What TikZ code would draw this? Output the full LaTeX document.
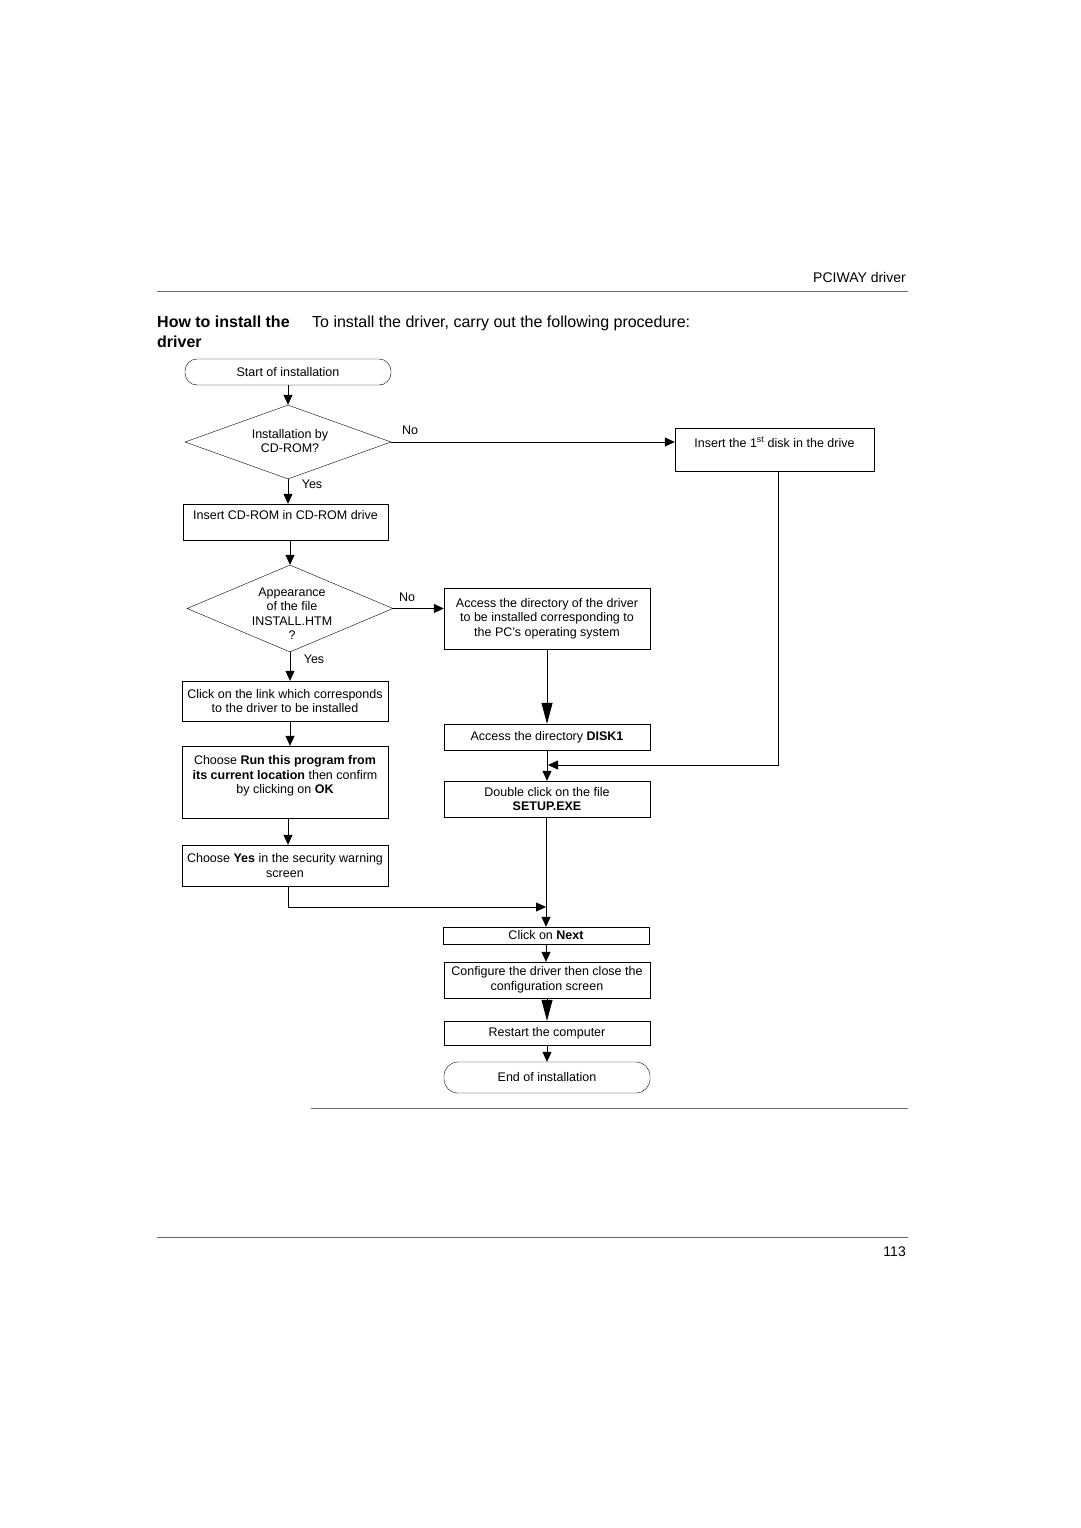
\documentclass[tikz,border=0pt]{standalone}
\usepackage{fontspec}
\setmainfont{Liberation Sans}
\usetikzlibrary{shapes.geometric,arrows.meta}

\begin{document}
\begin{tikzpicture}[x=1pt, y=-1pt, every node/.style={font=\fontsize{12.5}{14.5}\selectfont, inner sep=0pt},
	>={Triangle[length=10pt, width=9pt]},
	box/.style={draw, minimum width=206, align=center},
	term/.style={box, rounded corners=12},
	dia/.style={draw, diamond, minimum width=206},
	flow/.style={->, line width=0.8pt},
	bigflow/.style={-{Triangle[length=21pt, width=11pt]}, line width=0.8pt},
	rule/.style={gray!80!black, line width=1pt}]
	\useasboundingbox (0,0) rectangle (1080,1528);
	% page head
	\node[anchor=base east, font=\fontsize{14}{17}\selectfont] (runhead) at (906,282) {PCIWAY driver};
	\draw[rule] (157,291) -- (908,291);
	\node[anchor=north west, align=left, font=\bfseries\fontsize{16}{20}\selectfont] (title) at (157,316) {How to install the\\driver};
	\node[anchor=base west, font=\fontsize{16}{19}\selectfont] (intro) at (312,327) {To install the driver, carry out the following procedure:};
	% left column
	\node[term, minimum height=26] (start) at (288,372) {Start of installation};
	\node[dia, minimum height=74] (cdq) at (288,442) {};
	\node[align=center] (cdqtxt) at (290,441) {Installation by\\CD-ROM?};
	\node[box, minimum width=205, minimum height=36] (cdrom) at (285.5,522) {Insert CD-ROM in CD-ROM drive\\\mbox{}};
	\node[dia, minimum height=87] (htmq) at (290,608.5) {};
	\node[align=center] (htmqtxt) at (292,613.5) {Appearance\\of the file\\INSTALL.HTM\\?};
	\node[box, minimum height=40] (link) at (285,701) {Click on the link which corresponds\\to the driver to be installed};
	\node[box, minimum height=72] (runprog) at (285,782) {Choose \textbf{Run this program from}\\\textbf{its current location} then confirm\\by clicking on \textbf{OK}\\\mbox{}};
	\node[box, minimum height=41] (secyes) at (285,865.5) {Choose \textbf{Yes} in the security warning\\screen};
	% right columns
	\node[box, minimum width=199, minimum height=43] (disk) at (774.5,449.5) {Insert the 1\textsuperscript{st} disk in the drive\\\mbox{}};
	\node[box, minimum height=61] (drvdir) at (547,618.5) {Access the directory of the driver\\to be installed corresponding to\\the PC's operating system};
	\node[box, minimum height=26] (disk1) at (547,737) {Access the directory \textbf{DISK1}};
	\node[box, minimum height=36] (setup) at (547,799) {Double click on the file\\\textbf{SETUP.EXE}};
	\node[box, minimum height=17] (next) at (546,935.5) {Click on \textbf{Next}};
	\node[box, minimum height=36] (config) at (547,980) {Configure the driver then close the\\configuration screen};
	\node[box, minimum height=24] (restart) at (547,1033) {Restart the computer};
	\node[term, minimum height=31, rounded corners=14] (finish) at (547,1077.5) {End of installation};
	\coordinate (joinyes) at (546,907);
	\coordinate (joindisk) at (548,765);
	% answers
	\node (no1) at (410,430) {No};
	\node (yes1) at (312,484) {Yes};
	\node (no2) at (407,597) {No};
	\node (yes2) at (314,659) {Yes};
	% connectors
	\draw[flow] (start) -- (cdq);
	\draw[flow] (cdq.south) -- (cdq.south |- cdrom.north);
	\draw[flow] (cdq.east) -- (cdq.east -| disk.west);
	\draw[flow] (htmq.north |- cdrom.south) -- (htmq.north);
	\draw[flow] (htmq.south) -- (htmq.south |- link.north);
	\draw[flow] (htmq.east) -- (htmq.east -| drvdir.west);
	\draw[flow] ([xshift=5]link.south) -- ([xshift=5]runprog.north);
	\draw[flow] ([xshift=3]runprog.south) -- ([xshift=3]secyes.north);
	\draw[flow] ([xshift=3]secyes.south) |- (joinyes);
	\draw[bigflow] (drvdir) -- (disk1);
	\draw[flow] (disk1) -- (setup);
	\draw[flow] ([xshift=3.5]disk.south) |- (joindisk);
	\draw[flow] (setup.south -| next.north) -- (next.north);
	\draw[flow] (next.south) -- (next.south |- config.north);
	\draw[bigflow] (config) -- (restart);
	\draw[flow] (restart) -- (finish);
	% page foot
	\draw[rule] (311,1108) -- (908,1108);
	\draw[rule] (157,1237) -- (908,1237);
	\node[anchor=base east, font=\fontsize{14}{17}\selectfont] (pageno) at (906,1256) {113};
\end{tikzpicture}
\end{document}
